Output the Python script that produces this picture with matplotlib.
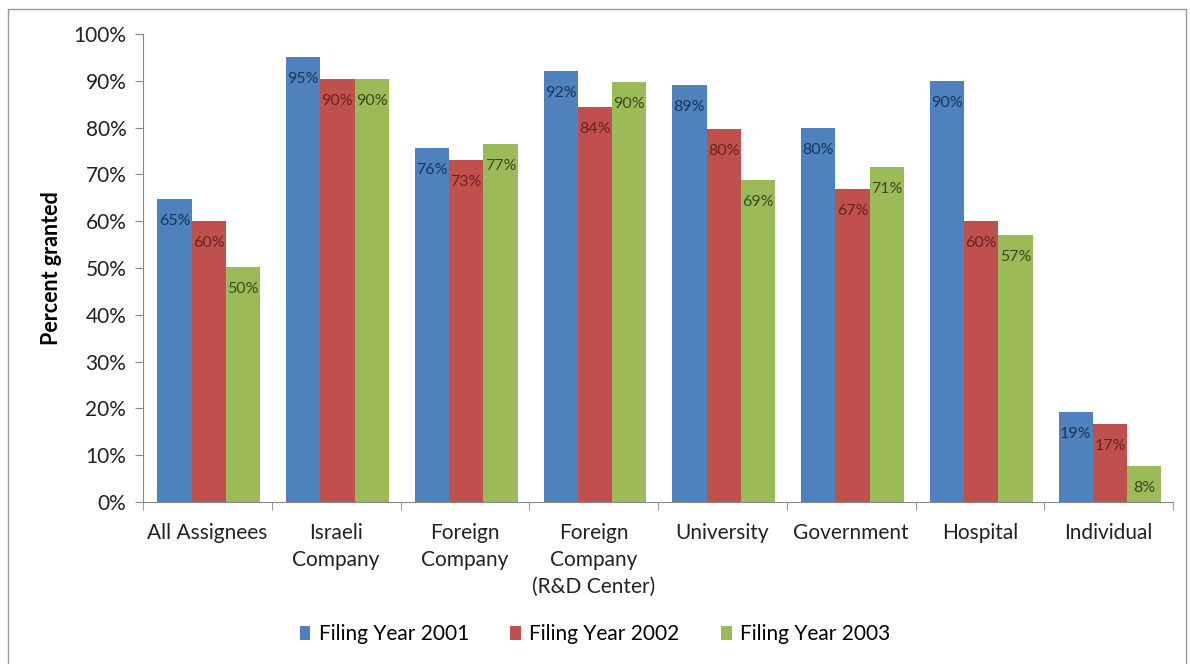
import numpy as np
import matplotlib
matplotlib.use('agg')
import matplotlib.pyplot as plt
from matplotlib.patches import Rectangle

plt.rcParams['font.family'] = ['Lato', 'DejaVu Sans']

categories = ["All Assignees", "Israeli\nCompany", "Foreign\nCompany",
              "Foreign\nCompany\n(R&D Center)", "University", "Government",
              "Hospital", "Individual"]
series = ["Filing Year 2001", "Filing Year 2002", "Filing Year 2003"]
fy2001 = [64.7, 95.0, 75.6, 92.0, 89.2, 80.0, 90.0, 19.2]
fy2002 = [60.0, 90.3, 73.0, 84.4, 79.8, 66.8, 60.0, 16.6]
fy2003 = [50.2, 90.3, 76.5, 89.8, 68.9, 71.5, 57.0, 7.7]
labels2001 = ["65%", "95%", "76%", "92%", "89%", "80%", "90%", "19%"]
labels2002 = ["60%", "90%", "73%", "84%", "80%", "67%", "60%", "17%"]
labels2003 = ["50%", "90%", "77%", "90%", "69%", "71%", "57%", "8%"]

colors = ["#4F81BD", "#C0504D", "#9BBB59"]
text_colors = ["#17375E", "#632523", "#3B4A1E"]

W, H = 1190, 664
fig = plt.figure(figsize=(W / 100, H / 100), dpi=100)
ax = fig.add_axes([143 / W, 1 - 502 / H, (1173 - 143) / W, (502 - 34) / H])

x = np.arange(len(categories))
w = 0.266
for i, (vals, labs) in enumerate(zip([fy2001, fy2002, fy2003],
                                     [labels2001, labels2002, labels2003])):
    pos = x + (i - 1) * w + 0.01
    ax.bar(pos, vals, w, color=colors[i], label=series[i])
    for p, v, t in zip(pos, vals, labs):
        ax.annotate(t, (p, v), xytext=(0, -22), textcoords='offset pixels',
                    ha='center', va='center', fontsize=11.5, color=text_colors[i])

ax.set_xlim(-0.5, len(categories) - 0.5)
ax.set_ylim(0, 100)
ax.set_yticks(np.arange(0, 101, 10))
ax.set_yticklabels([f"{v}%" for v in range(0, 101, 10)], fontsize=15, color='#222222')
ax.set_xticks(x)
ax.set_xticklabels(categories, fontsize=15, color='#222222', linespacing=1.45)
ax.set_xticks(np.arange(-0.5, len(categories)), minor=True)
ax.tick_params(axis='x', which='major', length=0, pad=15)
ax.tick_params(axis='x', which='minor', length=6, color='#888888')
ax.tick_params(axis='y', length=6, color='#888888', pad=6)
for s in ['top', 'right']:
    ax.spines[s].set_visible(False)
for s in ['left', 'bottom']:
    ax.spines[s].set_color('#888888')
ax.set_ylabel("Percent granted", fontsize=15.5, fontweight='bold', labelpad=8)

fig.legend(loc='center', bbox_to_anchor=(0.5, 1 - 634 / H), ncol=3,
           frameon=False, fontsize=15, handlelength=0.5, handleheight=0.65,
           columnspacing=2.0, handletextpad=0.4)

fig.patches.append(Rectangle((8 / W, -0.01), 1178 / W, 1 - 9 / H + 0.01,
                             transform=fig.transFigure, fill=False,
                             edgecolor='#999999', linewidth=1))

fig.savefig("out.png", dpi=100, facecolor='w')
